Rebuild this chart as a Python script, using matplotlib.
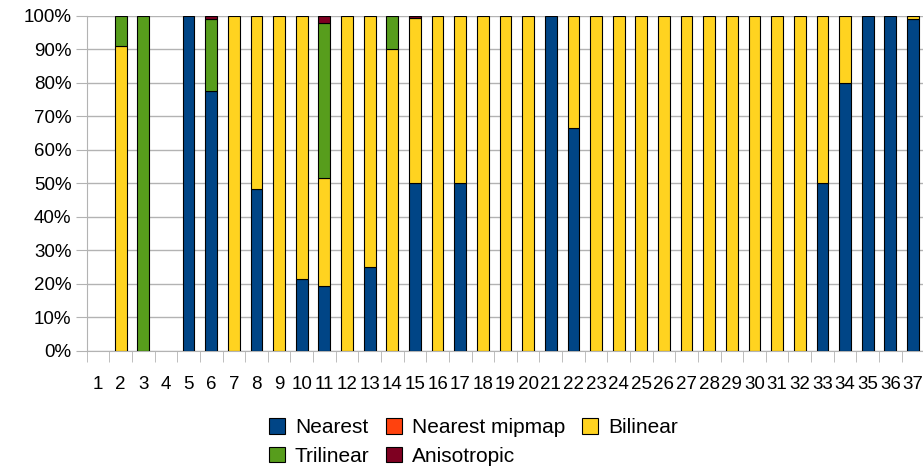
import numpy as np
import matplotlib.pyplot as plt
from matplotlib.patches import Patch

plt.rcParams['font.family'] = ['Liberation Sans', 'DejaVu Sans']

categories = [str(i) for i in range(1, 38)]
nearest = [0, 0, 0, 0, 100, 77.5, 0, 48.5, 0, 21.5, 19.5, 0, 25, 0, 50, 0, 50, 0, 0, 0,
           100, 66.7, 0, 0, 0, 0, 0, 0, 0, 0, 0, 0, 50, 80, 100, 100, 99]
nearest_mipmap = [0] * 37
bilinear = [0, 91, 0, 0, 0, 0, 100, 51.5, 100, 78.5, 32, 100, 75, 90, 49.5, 100, 50, 100, 100, 100,
            0, 33.3, 100, 100, 100, 100, 100, 100, 100, 100, 100, 100, 50, 20, 0, 0, 1]
trilinear = [0, 9, 100, 0, 0, 21.5, 0, 0, 0, 0, 46.5, 0, 0, 10, 0, 0, 0, 0, 0, 0,
             0, 0, 0, 0, 0, 0, 0, 0, 0, 0, 0, 0, 0, 0, 0, 0, 0]
anisotropic = [0, 0, 0, 0, 0, 1, 0, 0, 0, 0, 2, 0, 0, 0, 0.5, 0, 0, 0, 0, 0,
               0, 0, 0, 0, 0, 0, 0, 0, 0, 0, 0, 0, 0, 0, 0, 0, 0]

series = [('Nearest', nearest, '#004586'),
          ('Nearest mipmap', nearest_mipmap, '#ff420e'),
          ('Bilinear', bilinear, '#ffd320'),
          ('Trilinear', trilinear, '#579d1c'),
          ('Anisotropic', anisotropic, '#7e0021')]

fig = plt.figure(figsize=(9.23, 4.71), dpi=100)
ax = fig.add_axes([0.0939, 0.2548, 0.9075, 0.7113])

x = np.arange(len(categories))
bottom = np.zeros(len(categories))
for name, vals, color in series:
    vals = np.array(vals, dtype=float)
    mask = vals > 0
    ax.bar(x[mask], vals[mask], 0.52, bottom=bottom[mask], color=color,
           edgecolor='black', linewidth=0.8, zorder=3)
    bottom += vals

ax.set_xlim(-0.5, len(categories) - 0.5)
ax.set_ylim(0, 100)
ax.set_yticks(np.arange(0, 101, 10))
ax.set_yticklabels([f'{v}%' for v in range(0, 101, 10)])
ax.set_xticks(x)
ax.set_xticklabels(categories)
ax.set_xticks(np.arange(-0.5, len(categories), 1), minor=True)
ax.tick_params(axis='x', which='major', length=0, pad=18, labelsize=13.5)
ax.tick_params(axis='x', which='minor', length=8, color='#b3b3b3')
ax.tick_params(axis='y', length=8, color='#b3b3b3', labelsize=13.5, pad=3)
ax.grid(axis='y', color='#b3b3b3', linewidth=1, zorder=0)
ax.grid(axis='x', which='minor', visible=False)
for s in ['top', 'right']:
    ax.spines[s].set_visible(False)
for s in ['left', 'bottom']:
    ax.spines[s].set_color('#b3b3b3')

handles = {name: Patch(facecolor=color, edgecolor='black', linewidth=0.8)
           for name, _, color in series}
order = ['Nearest', 'Trilinear', 'Nearest mipmap', 'Anisotropic', 'Bilinear']
fig.legend([handles[n] for n in order], order, ncol=3, loc='upper center',
           bbox_to_anchor=(0.513, 0.134), frameon=False, fontsize=15,
           handlelength=0.75, handleheight=0.75, handletextpad=0.5,
           columnspacing=0.8, labelspacing=0.45, borderpad=0)

fig.savefig('out.png', dpi=100)
